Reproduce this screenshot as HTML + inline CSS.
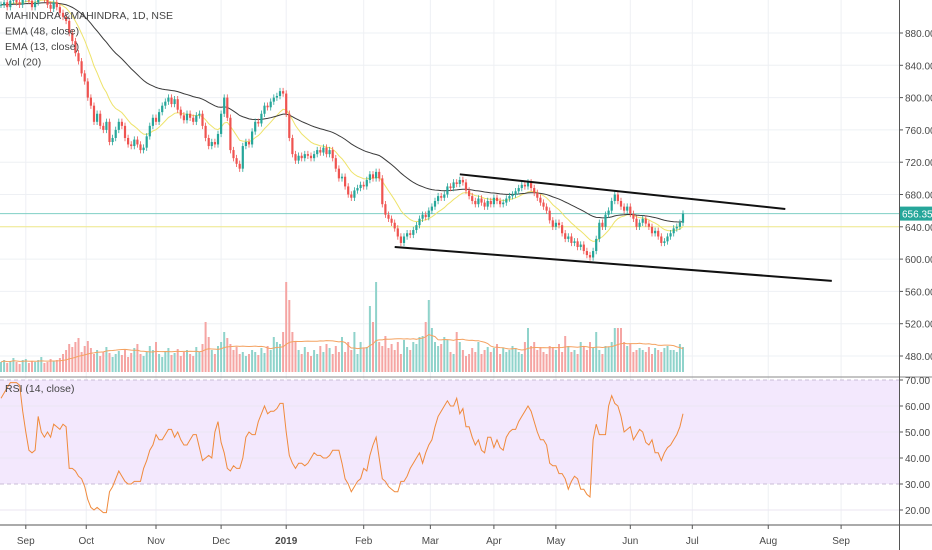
<!DOCTYPE html>
<html><head><meta charset="utf-8"><style>
html,body{margin:0;padding:0;background:#fff;}
svg{display:block;font-family:"Liberation Sans",sans-serif;}
</style></head><body>
<svg id="c" width="932" height="550" viewBox="0 0 932 550"></svg>
<script>
const closes=[915,918,912,920,925,918,915,922,928,920,912,918,925,930,922,915,910,918,912,
905,900,895,880,870,855,845,830,820,800,790,770,780,765,760,770,745,750,760,770,765,750,742,740,748,742,735,738,752,765,775,770,782,790,795,800,792,798,785,778,772,780,775,770,778,780,765,750,740,745,742,755,780,800,775,735,725,718,712,740,745,742,758,770,768,780,790,788,795,800,802,808,805,780,750,730,722,728,725,730,728,725,730,735,732,738,730,735,725,712,700,702,690,680,676,685,688,692,690,698,705,700,708,700,668,655,650,645,638,628,620,628,632,630,636,642,650,655,652,660,665,672,678,676,680,690,688,695,693,698,695,685,678,672,668,675,670,665,672,668,676,672,668,670,675,678,680,684,688,692,690,695,688,682,676,670,665,660,648,640,645,642,632,625,628,620,622,615,618,610,605,602,610,625,645,640,655,660,672,680,672,665,660,665,656,650,640,645,650,644,640,632,635,628,620,622,628,632,638,640,645,656.35];
const volumes=[10,12,9,11,14,10,8,12,13,9,11,10,12,15,9,10,13,11,12,14,
18,22,28,25,30,34,20,26,31,24,18,22,16,20,25,19,15,18,21,17,
22,15,19,24,28,18,16,20,26,22,30,18,15,21,24,17,19,23,16,20,
22,18,16,25,20,28,50,35,22,18,26,30,40,34,28,22,25,18,20,16,
18,22,20,17,24,19,26,22,35,30,28,40,90,72,40,30,22,18,25,20,
16,22,18,26,20,28,24,18,26,20,35,20,30,22,40,18,30,24,25,66,
50,90,30,26,36,24,28,22,30,18,32,25,22,30,28,35,36,50,72,44,
30,26,28,35,32,20,18,40,30,22,16,18,24,20,30,18,22,25,20,24,
28,18,24,20,22,26,24,20,18,30,44,26,30,22,25,20,18,26,24,22,
28,20,36,26,20,22,18,30,25,22,30,24,40,22,18,26,25,30,44,44,
44,30,26,28,20,22,24,22,20,25,18,24,22,20,24,26,22,22,20,28,25];
const rsiValues=[63,65,67,69,69,69,68,58,50,43,42,43,56,50,48,50,48,53,52,51,
53,52,36,36,35,33,32,29,24,21,20,21,20,19,19,27,29,32,35,33,
31,30,30,31,31,31,36,39,43,45,49,47,47,49,51,51,48,50,47,45,
45,47,49,49,44,39,40,41,40,50,54,46,42,36,35,37,36,36,40,48,
50,49,49,54,57,60,57,58,58,59,61,61,50,41,38,36,38,38,37,38,
40,42,41,41,40,40,41,43,43,43,38,32,30,27,29,31,32,36,35,41,
45,48,40,32,31,29,28,27,27,31,31,33,36,38,40,42,38,42,45,47,
52,56,58,60,62,60,60,63,57,59,52,52,48,45,47,43,42,48,48,44,
47,44,43,48,50,51,51,54,56,58,60,58,54,50,47,47,45,38,37,37,
34,34,32,28,31,33,32,28,28,26,25,47,53,49,49,49,60,64,61,60,
56,50,51,52,47,49,51,50,46,45,47,42,42,39,42,44,45,47,49,52,57];
const priceTicks=[880,840,800,760,720,680,640,600,560,520,480];
const rsiTicks=[70,60,50,40,30,20];
const monthLabels=["Sep","Oct","Nov","Dec","2019","Feb","Mar","Apr","May","Jun","Jul","Aug","Sep"];
const monthIdx=[8,27.5,50,71,92,117,138.5,159,179,203,223,247.5,271];
const upperLine=[[148,705],[253,662]];
const lowerLine=[[127,615],[268,573]];

const NS="http://www.w3.org/2000/svg",svg=document.getElementById('c');
const xOf=i=>1+i*3.1;
const yP=p=>33+(880-p)*0.8075;
const yR=v=>380+(70-v)*2.6;
const yV=v=>372-v;
function mk(t,a,p){const e=document.createElementNS(NS,t);for(const k in a)e.setAttribute(k,a[k]);(p||svg).appendChild(e);return e;}

priceTicks.forEach(p=>{const l=mk('line',{x1:0,x2:899,y1:yP(p),y2:yP(p),stroke:'#eef0f4'});
});
monthIdx.forEach(m=>{const l=mk('line',{x1:xOf(m),x2:xOf(m),y1:0,y2:525,stroke:'#eef0f4'});
});

const band=mk('rect',{x:0,y:yR(70),width:899,height:yR(30)-yR(70),fill:'#f3e8fd'});

[60,50,40,20].forEach(v=>{const l=mk('line',{x1:0,x2:899,y1:yR(v),y2:yR(v),stroke:'#ebe6f2'});
});
[70,30].forEach(v=>{const l=mk('line',{x1:0,x2:899,y1:yR(v),y2:yR(v),stroke:'#c9bcd6','stroke-dasharray':'4 3'});
});

volumes.forEach((v,i)=>{const up=i===0||closes[i]>=closes[i-1];
const r=mk('rect',{x:xOf(i)-1,y:yV(v),width:2,height:v,fill:up?'#8fd3cb':'#f5a5a3'});
});
const vma=[];volumes.forEach((v,i)=>{const s=volumes.slice(Math.max(0,i-19),i+1);vma.push(s.reduce((a,b)=>a+b,0)/s.length);});
const vmaL=mk('polyline',{points:vma.map((v,i)=>xOf(i)+','+yV(v)).join(' '),fill:'none',stroke:'#f4a261','stroke-width':1});


function ema(n){const k=2/(n+1);let e=closes[0];return closes.map(c=>e=c*k+e*(1-k));}
const e13=ema(13),e48=ema(48);
const hl1=mk('line',{x1:0,x2:899,y1:yP(e13[e13.length-1]),y2:yP(e13[e13.length-1]),stroke:'#f0ea8a'});

const last=closes[closes.length-1];
const hl2=mk('line',{x1:0,x2:899,y1:yP(last),y2:yP(last),stroke:'#7fcfc4'});

const l13=mk('polyline',{points:e13.map((v,i)=>xOf(i)+','+yP(v)).join(' '),fill:'none',stroke:'#eee36a','stroke-width':1});

const l48=mk('polyline',{points:e48.map((v,i)=>xOf(i)+','+yP(v)).join(' '),fill:'none',stroke:'#3a3a3a','stroke-width':1});


closes.forEach((c,i)=>{const o=i===0?c:closes[i-1];const up=c>=o;const col=up?'#26a69a':'#ef5350';
const hi=Math.max(o,c)+4,lo=Math.min(o,c)-4;
const w=mk('line',{x1:xOf(i),x2:xOf(i),y1:yP(hi),y2:yP(lo),stroke:col,'stroke-width':0.8});

const b=mk('rect',{x:xOf(i)-1.1,y:yP(Math.max(o,c)),width:2.2,height:Math.max(1,Math.abs(yP(o)-yP(c))),fill:col});
});

const tu=mk('line',{x1:xOf(upperLine[0][0]),y1:yP(upperLine[0][1]),x2:xOf(upperLine[1][0]),y2:yP(upperLine[1][1]),stroke:'#111','stroke-width':2});

const tl=mk('line',{x1:xOf(lowerLine[0][0]),y1:yP(lowerLine[0][1]),x2:xOf(lowerLine[1][0]),y2:yP(lowerLine[1][1]),stroke:'#111','stroke-width':2});


const rl=mk('polyline',{points:rsiValues.map((v,i)=>xOf(i)+','+yR(v)).join(' '),fill:'none',stroke:'#f08a3c','stroke-width':1});


const s1=mk('line',{x1:0,x2:932,y1:377,y2:377,stroke:'#8a8a8a'});
const s2=mk('line',{x1:0,x2:932,y1:525,y2:525,stroke:'#555'});
const s3=mk('line',{x1:899.5,x2:899.5,y1:0,y2:550,stroke:'#555'});

priceTicks.forEach(p=>{const tk=mk('line',{x1:899,x2:903,y1:yP(p),y2:yP(p),stroke:'#555'});

const t=mk('text',{x:905,y:yP(p)+4,'font-size':10,fill:'#4a4a4a'});t.textContent=p.toFixed(2);
});
rsiTicks.forEach(v=>{const tk=mk('line',{x1:899,x2:903,y1:yR(v),y2:yR(v),stroke:'#555'});

const t=mk('text',{x:905,y:yR(v)+4,'font-size':10,fill:'#4a4a4a'});t.textContent=v.toFixed(2);
});
monthLabels.forEach((m,i)=>{const x=xOf(monthIdx[i]);
const tk=mk('line',{x1:x,x2:x,y1:525,y2:529,stroke:'#555'});
const t=mk('text',{x:x,y:544,'font-size':10,fill:'#4a4a4a','text-anchor':'middle','font-weight':m==='2019'?'bold':'normal'});
t.textContent=m;});

const bx=mk('rect',{x:900,y:yP(last)-7,width:32,height:14,fill:'#26a69a'});
const bt=mk('text',{x:902,y:yP(last)+4,'font-size':10,fill:'#fff'});bt.textContent=last.toFixed(2);


[['MAHINDRA &MAHINDRA, 1D, NSE','symbol-title'],['EMA (48, close)','ema48-legend'],['EMA (13, close)','ema13-legend'],['Vol (20)','volume-legend']].forEach((a,i)=>{
const t=mk('text',{x:5,y:19+i*15.5,'font-size':10.5,fill:'#444'});t.textContent=a[0];
});
const rt=mk('text',{x:5,y:392,'font-size':10.5,fill:'#444'});rt.textContent='RSI (14, close)';

</script>
</body></html>
